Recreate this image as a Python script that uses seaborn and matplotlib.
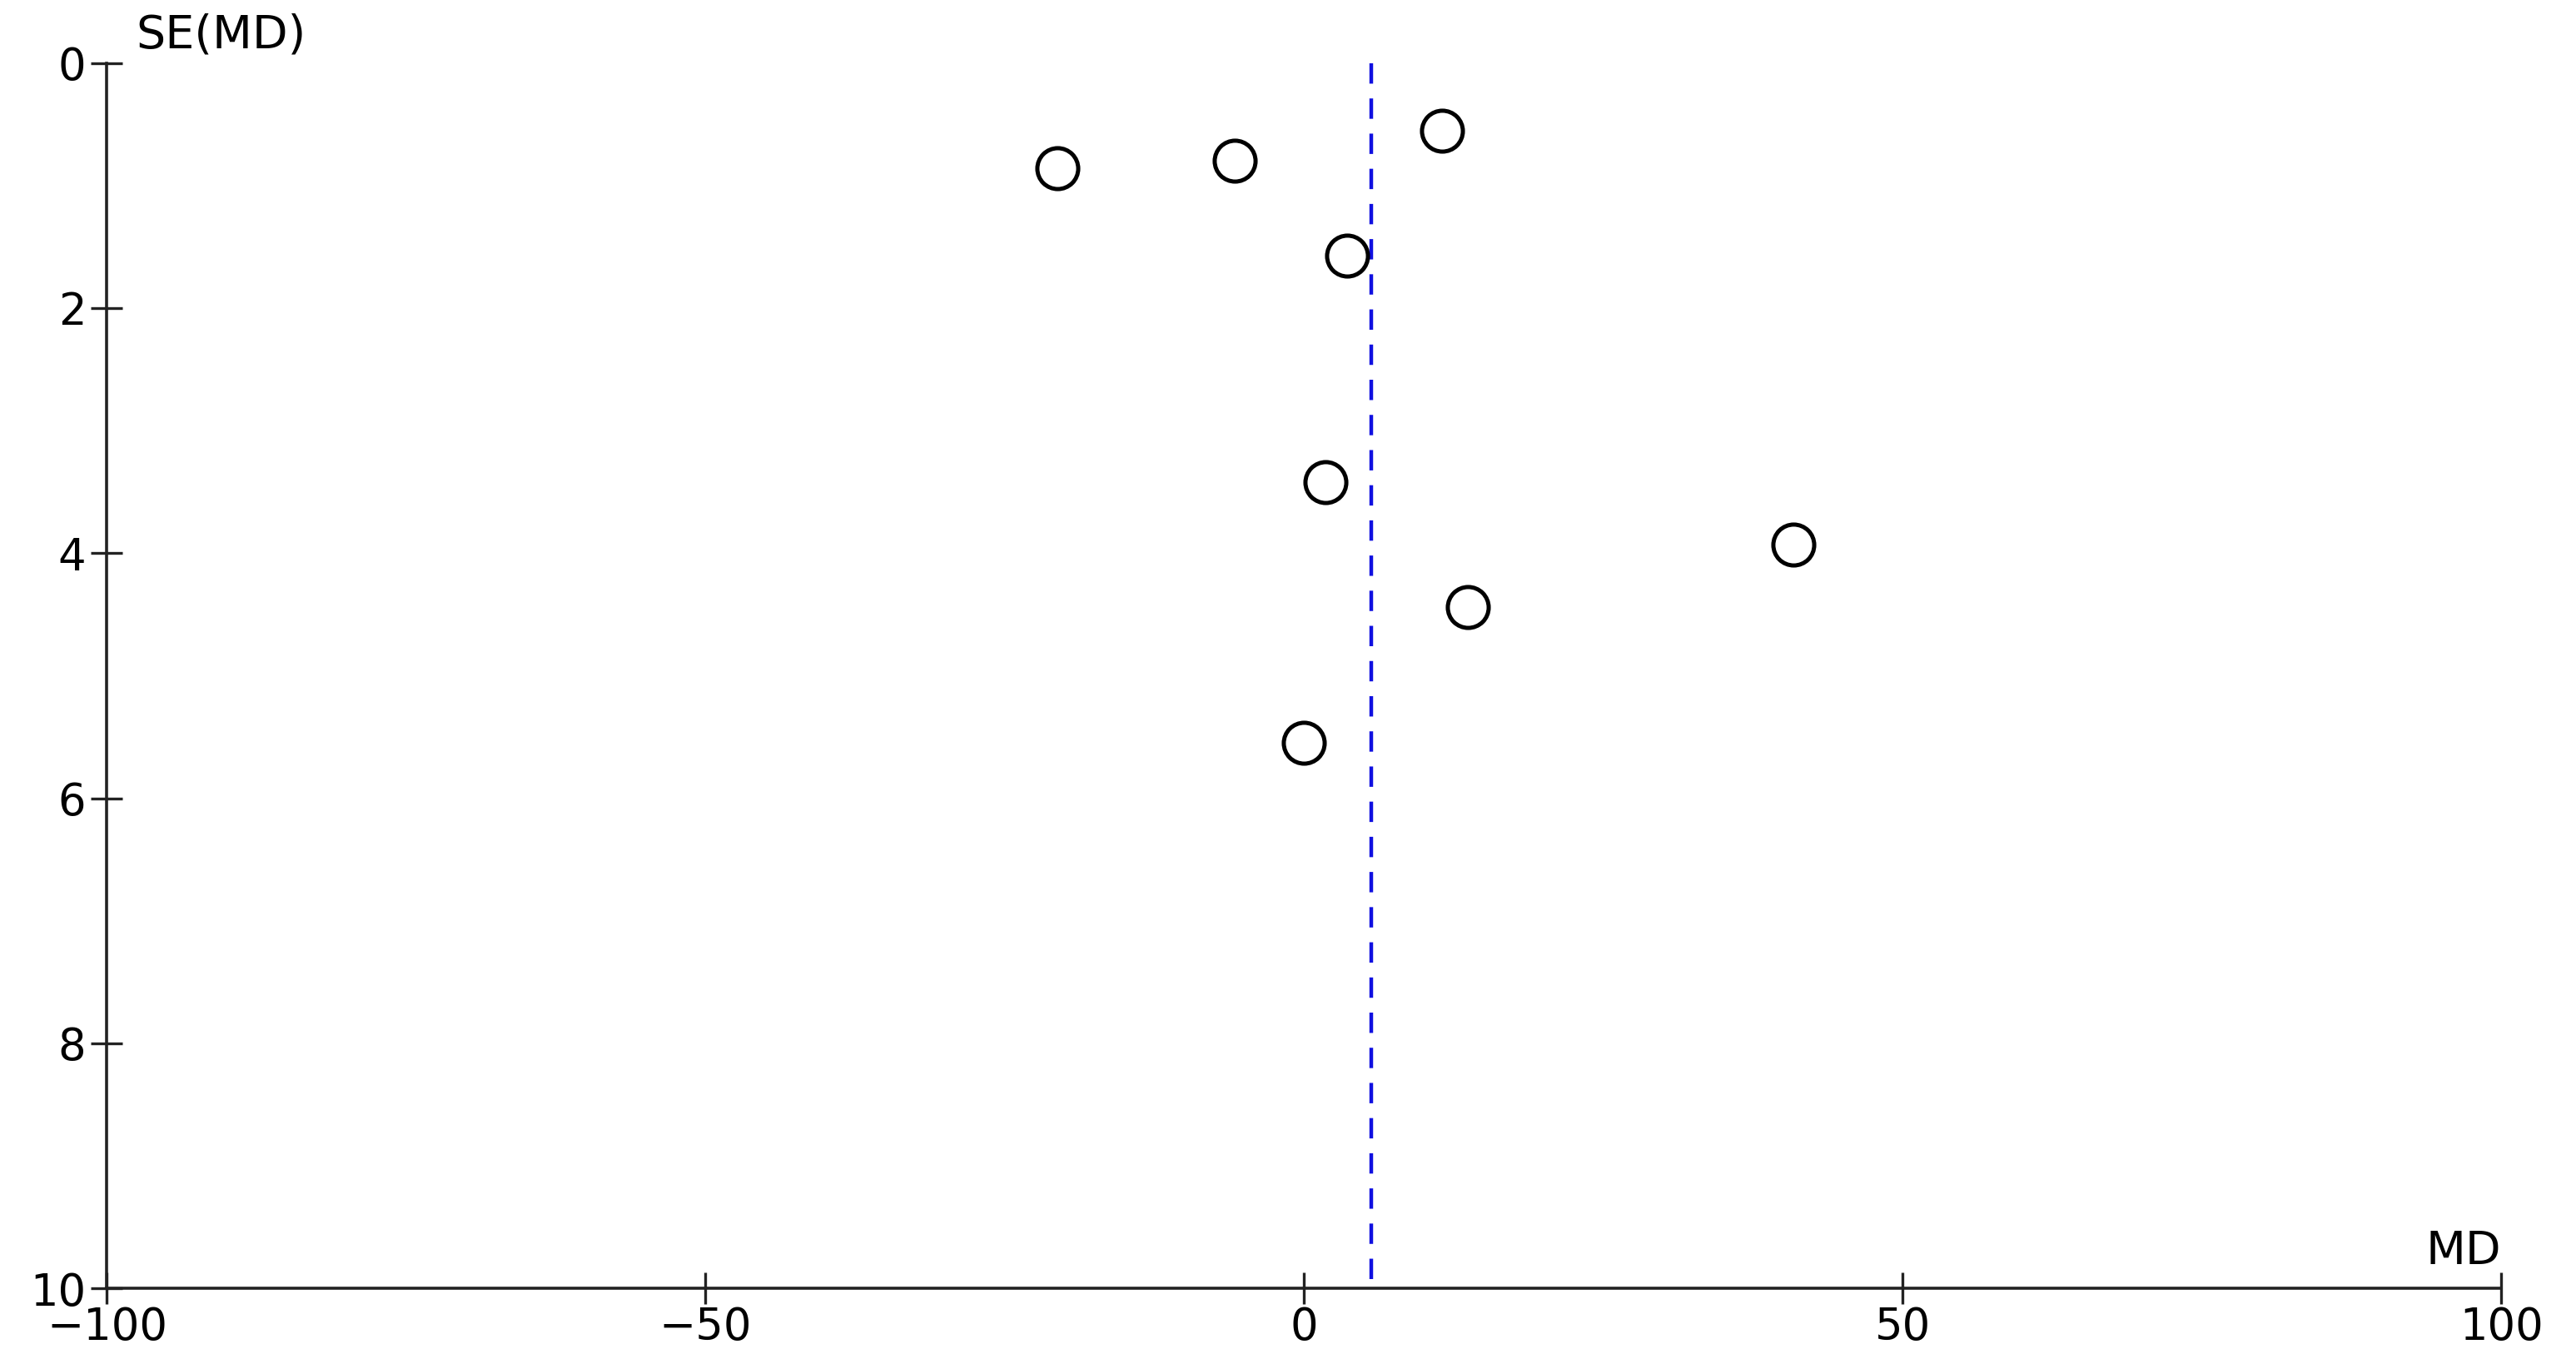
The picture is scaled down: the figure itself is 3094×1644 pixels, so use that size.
import matplotlib
matplotlib.use("Agg")
import matplotlib.pyplot as plt
import seaborn as sns
import pandas as pd

md = [-20.6, -5.8, 11.5, 3.6, 1.8, 40.9, 13.7, 0.0]
se = [0.86, 0.80, 0.55, 1.57, 3.42, 3.93, 4.44, 5.55]
pooled_md = 5.6
x_ticks = [-100, -50, 0, 50, 100]
y_ticks = [0, 2, 4, 6, 8, 10]

df = pd.DataFrame({"MD": md, "SE": se})

sns.set_theme(style="ticks")
plt.rcParams['font.family'] = ['DejaVu Sans']
plt.rcParams['text.color'] = 'black'

fig = plt.figure(figsize=(30.94, 16.44), dpi=100)
ax = fig.add_axes([0.0415, 0.0588, 0.9295, 0.8952])

ax.plot([pooled_md, pooled_md], [0, 10], color="#1010e0", lw=3.2,
        dashes=(5.5, 4), zorder=1)
sns.scatterplot(data=df, x="MD", y="SE", ax=ax, s=1250, marker="o",
                facecolor="white", edgecolor="black", linewidth=3.6, zorder=3)

ax.set_xlim(-100, 100)
ax.set_ylim(10, 0)
ax.set_xticks(x_ticks)
ax.set_yticks(y_ticks)
ax.set_xticklabels([str(v).replace("-", "\u2212") for v in x_ticks])
ax.set_xlabel("")
ax.set_ylabel("")
for s in ["top", "right"]:
    ax.spines[s].set_visible(False)
for s in ["left", "bottom"]:
    ax.spines[s].set_color("#222222")
    ax.spines[s].set_linewidth(2.6)
ax.tick_params(axis="both", direction="inout", length=28, width=2.4,
               colors="#222222", labelsize=38, labelcolor="black")
ax.tick_params(axis="x", pad=1)
ax.tick_params(axis="y", pad=4)

ax.text(0.012, 1.004, "SE(MD)", transform=ax.transAxes, fontsize=40,
        ha="left", va="bottom", color="black")
ax.text(1.0, 0.012, "MD", transform=ax.transAxes, fontsize=40,
        ha="right", va="bottom", color="black")

fig.savefig("out.png", dpi=100, facecolor="white")
